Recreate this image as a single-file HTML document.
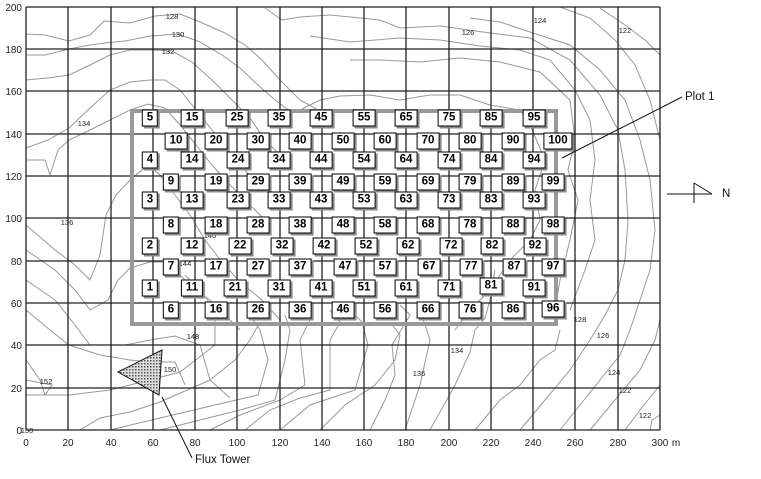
<!DOCTYPE html>
<html><head><meta charset="utf-8"><style>
body{margin:0;background:#fff;}
#w{position:relative;width:761px;height:479px;overflow:hidden;font-family:"Liberation Sans",sans-serif;}
svg{position:absolute;left:0;top:0;}
.b{position:absolute;transform:translate(-50%,-50%);background:#fff;border:1px solid #000;padding:0 4px;height:15px;line-height:15px;font-weight:bold;font-size:11.5px;box-shadow:2px 2px 0 #8a8a8a;white-space:nowrap;}
</style></head><body><div id="w">
<svg width="761" height="479" viewBox="0 0 761 479">
<g fill="none" stroke="#999" stroke-width="1">
<polyline points="26,34 45,35 69,41 90,35 104,21 130,23 155,16 180,14 200,22 225,33 245,45 262,60 280,80 300,100 320,111"/>
<polyline points="26,55 45,55 69,49 90,45 105,43 125,41 150,36 178,34 200,42 222,55 240,68 258,85 275,100 290,111"/>
<polyline points="26,80 48,78 69,75 90,65 110,55 130,50 155,50 172,51 192,62 212,80 232,100 250,118 265,140 285,160"/>
<polyline points="26,148 48,140 69,128 90,108 110,90 130,82 150,80 165,80 180,90 196,110 212,130 228,150 245,170 262,190"/>
<polyline points="26,160 45,160 50,175 58,150 69,140 90,130 110,120 130,110 148,104 165,108 180,125 196,145 212,165 230,185 250,205 270,225"/>
<polyline points="26,225 55,250 75,265 90,280 100,255 106,215 116,195 130,180 148,165 160,175 175,195 190,215 205,240 222,262 240,282 262,300 280,320"/>
<polyline points="26,250 55,270 75,290 90,310 108,300 118,280 130,268 150,262 165,262 180,275 195,290 210,300 225,315 240,330"/>
<polyline points="26,280 55,300 75,325 90,345 108,345 125,345 150,340 175,336 200,345 210,380 230,398"/>
<polyline points="26,310 50,330 69,345 100,355 130,360 150,362 175,362 185,385"/>
<polyline points="26,360 40,380 45,395 69,395 110,390 150,380 180,372 215,345 215,310 200,290 185,275"/>
<polyline points="26,395 45,395 52,385 26,380"/>
<polyline points="80,430 100,418 130,412 160,402 210,380 235,360 250,340 260,322"/>
<polyline points="110,430 160,418 215,405 258,395 268,360 260,330 250,315"/>
<polyline points="160,430 200,420 240,410 275,400 285,360 290,330 285,315"/>
<polyline points="210,430 240,415 280,400 305,385 300,340 310,320"/>
<polyline points="245,430 270,410 300,398 330,390 330,340 340,322 330,310"/>
<polyline points="280,430 310,405 355,390 368,345 362,322 345,305"/>
<polyline points="320,430 345,405 375,385 395,360 400,335 390,322"/>
<polyline points="370,430 385,400 395,375 392,345 410,315 400,305"/>
<polyline points="405,430 420,385 430,340 420,310"/>
<polyline points="430,430 455,385 470,352 475,330 485,318 490,300 495,270"/>
<polyline points="475,430 500,400 520,385 540,360 555,350 560,330"/>
<polyline points="520,430 545,400 570,370 590,340 605,315 618,290 625,260 628,220 625,170 618,130 600,95 570,60 530,38 490,33 440,26 400,28 380,20 360,18 330,15 300,17 282,20 265,8"/>
<polyline points="560,430 580,405 600,380 620,355 630,330 640,300 650,270 655,230 650,180 640,140 625,100 600,70 570,45 530,32 500,22 470,18"/>
<polyline points="590,430 615,400 640,370 655,340 660,320"/>
<polyline points="625,430 640,410 652,395 660,385"/>
<polyline points="650,430 652,420 660,415"/>
<polyline points="600,8 625,25 645,40 660,55"/>
<polyline points="560,7 590,18 615,40 635,65 650,100 660,140"/>
<polyline points="455,330 470,310 490,290 510,260 530,240 540,220 535,190 545,160 530,125 520,110 490,105 460,95 430,95 400,100 370,95 340,96 320,100 300,110"/>
<polyline points="350,60 380,60 420,62 460,58 500,62 540,72 570,100 575,140 568,170 578,200 570,240 560,280 555,310"/>
<polyline points="310,36 350,42 400,38 440,40 480,46 520,50 550,60 575,90 590,120 595,160 590,200 595,240 585,270 570,310"/>
</g>
<g stroke="#222" stroke-width="1.3">
<line x1="26" y1="7" x2="26" y2="430"/><line x1="68" y1="7" x2="68" y2="430"/><line x1="111" y1="7" x2="111" y2="430"/><line x1="153" y1="7" x2="153" y2="430"/><line x1="195" y1="7" x2="195" y2="430"/><line x1="237" y1="7" x2="237" y2="430"/><line x1="280" y1="7" x2="280" y2="430"/><line x1="322" y1="7" x2="322" y2="430"/><line x1="364" y1="7" x2="364" y2="430"/><line x1="406" y1="7" x2="406" y2="430"/><line x1="449" y1="7" x2="449" y2="430"/><line x1="491" y1="7" x2="491" y2="430"/><line x1="533" y1="7" x2="533" y2="430"/><line x1="575" y1="7" x2="575" y2="430"/><line x1="618" y1="7" x2="618" y2="430"/><line x1="660" y1="7" x2="660" y2="430"/>
<line x1="26" y1="7" x2="660" y2="7"/><line x1="26" y1="49" x2="660" y2="49"/><line x1="26" y1="91" x2="660" y2="91"/><line x1="26" y1="134" x2="660" y2="134"/><line x1="26" y1="176" x2="660" y2="176"/><line x1="26" y1="218" x2="660" y2="218"/><line x1="26" y1="261" x2="660" y2="261"/><line x1="26" y1="303" x2="660" y2="303"/><line x1="26" y1="345" x2="660" y2="345"/><line x1="26" y1="388" x2="660" y2="388"/><line x1="26" y1="430" x2="660" y2="430"/>
</g>
<rect x="132" y="111" width="424" height="213" fill="none" stroke="#999" stroke-width="4"/>
<g font-size="7.5" fill="#222" text-anchor="middle">
<text x="172" y="19">128</text><text x="178" y="37">130</text><text x="168" y="54">132</text><text x="84" y="126">134</text><text x="67" y="225">136</text><text x="210" y="238">140</text><text x="185" y="266">144</text><text x="193" y="339">148</text><text x="170" y="372">150</text><text x="46" y="384">152</text><text x="27" y="433">150</text><text x="468" y="35">126</text><text x="540" y="23">124</text><text x="625" y="33">122</text><text x="457" y="353">134</text><text x="419" y="376">136</text><text x="580" y="322">128</text><text x="603" y="338">126</text><text x="614" y="375">124</text><text x="625" y="393">122</text><text x="645" y="418">122</text>
</g>
<g font-size="10" fill="#222" text-anchor="end">
<text x="22" y="11">200</text><text x="22" y="53">180</text><text x="22" y="95">160</text><text x="22" y="138">140</text><text x="22" y="180">120</text><text x="22" y="222">100</text><text x="22" y="265">80</text><text x="22" y="307">60</text><text x="22" y="349">40</text><text x="22" y="392">20</text><text x="22" y="434">0</text>
</g>
<g font-size="10" fill="#222" text-anchor="middle">
<text x="26" y="446">0</text><text x="68" y="446">20</text><text x="111" y="446">40</text><text x="153" y="446">60</text><text x="195" y="446">80</text><text x="237" y="446">100</text><text x="280" y="446">120</text><text x="322" y="446">140</text><text x="364" y="446">160</text><text x="406" y="446">180</text><text x="449" y="446">200</text><text x="491" y="446">220</text><text x="533" y="446">240</text><text x="575" y="446">260</text><text x="618" y="446">280</text><text x="660" y="446">300</text><text x="676" y="446">m</text>
</g>
<defs><pattern id="p" width="3" height="3" patternUnits="userSpaceOnUse"><rect width="3" height="3" fill="#ddd"/><rect width="1.5" height="1.5" fill="#555"/></pattern></defs>
<polygon points="118,372 162,350 159,395" fill="url(#p)" stroke="#111" stroke-width="1"/>
<line x1="162" y1="397" x2="192" y2="458" stroke="#111"/>
<text x="195" y="463" font-size="11.5" fill="#111">Flux Tower</text>
<line x1="562" y1="158" x2="682" y2="97" stroke="#111"/>
<text x="685" y="100" font-size="11.5" fill="#111">Plot 1</text>
<line x1="667" y1="194" x2="712" y2="194" stroke="#111"/>
<line x1="694" y1="183" x2="694" y2="203" stroke="#111"/>
<line x1="694" y1="183" x2="712" y2="194" stroke="#111"/>
<text x="722" y="197" font-size="11.5" fill="#111">N</text>
</svg>
<div class="b" style="left:150px;top:288px">1</div><div class="b" style="left:150px;top:246px">2</div><div class="b" style="left:150px;top:200px">3</div><div class="b" style="left:150px;top:160px">4</div><div class="b" style="left:150px;top:118px">5</div>
<div class="b" style="left:171px;top:310px">6</div><div class="b" style="left:171px;top:267px">7</div><div class="b" style="left:171px;top:225px">8</div><div class="b" style="left:171px;top:182px">9</div><div class="b" style="left:176px;top:141px">10</div>
<div class="b" style="left:192px;top:288px">11</div><div class="b" style="left:192px;top:246px">12</div><div class="b" style="left:192px;top:200px">13</div><div class="b" style="left:192px;top:160px">14</div><div class="b" style="left:192px;top:118px">15</div>
<div class="b" style="left:216px;top:310px">16</div><div class="b" style="left:216px;top:267px">17</div><div class="b" style="left:216px;top:225px">18</div><div class="b" style="left:216px;top:182px">19</div><div class="b" style="left:216px;top:141px">20</div>
<div class="b" style="left:235px;top:288px">21</div><div class="b" style="left:240px;top:246px">22</div><div class="b" style="left:238px;top:200px">23</div><div class="b" style="left:238px;top:160px">24</div><div class="b" style="left:237px;top:118px">25</div>
<div class="b" style="left:258px;top:310px">26</div><div class="b" style="left:258px;top:267px">27</div><div class="b" style="left:258px;top:225px">28</div><div class="b" style="left:258px;top:182px">29</div><div class="b" style="left:258px;top:141px">30</div>
<div class="b" style="left:279px;top:288px">31</div><div class="b" style="left:282px;top:246px">32</div><div class="b" style="left:279px;top:200px">33</div><div class="b" style="left:279px;top:160px">34</div><div class="b" style="left:279px;top:118px">35</div>
<div class="b" style="left:300px;top:310px">36</div><div class="b" style="left:300px;top:267px">37</div><div class="b" style="left:300px;top:225px">38</div><div class="b" style="left:300px;top:182px">39</div><div class="b" style="left:300px;top:141px">40</div>
<div class="b" style="left:321px;top:288px">41</div><div class="b" style="left:324px;top:246px">42</div><div class="b" style="left:321px;top:200px">43</div><div class="b" style="left:321px;top:160px">44</div><div class="b" style="left:321px;top:118px">45</div>
<div class="b" style="left:343px;top:310px">46</div><div class="b" style="left:345px;top:267px">47</div><div class="b" style="left:343px;top:225px">48</div><div class="b" style="left:343px;top:182px">49</div><div class="b" style="left:343px;top:141px">50</div>
<div class="b" style="left:364px;top:288px">51</div><div class="b" style="left:366px;top:246px">52</div><div class="b" style="left:364px;top:200px">53</div><div class="b" style="left:364px;top:160px">54</div><div class="b" style="left:364px;top:118px">55</div>
<div class="b" style="left:385px;top:310px">56</div><div class="b" style="left:385px;top:267px">57</div><div class="b" style="left:385px;top:225px">58</div><div class="b" style="left:385px;top:182px">59</div><div class="b" style="left:385px;top:141px">60</div>
<div class="b" style="left:406px;top:288px">61</div><div class="b" style="left:408px;top:246px">62</div><div class="b" style="left:406px;top:200px">63</div><div class="b" style="left:406px;top:160px">64</div><div class="b" style="left:406px;top:118px">65</div>
<div class="b" style="left:428px;top:310px">66</div><div class="b" style="left:429px;top:267px">67</div><div class="b" style="left:428px;top:225px">68</div><div class="b" style="left:428px;top:182px">69</div><div class="b" style="left:428px;top:141px">70</div>
<div class="b" style="left:449px;top:288px">71</div><div class="b" style="left:451px;top:246px">72</div><div class="b" style="left:449px;top:200px">73</div><div class="b" style="left:449px;top:160px">74</div><div class="b" style="left:449px;top:118px">75</div>
<div class="b" style="left:470px;top:310px">76</div><div class="b" style="left:471px;top:267px">77</div><div class="b" style="left:470px;top:225px">78</div><div class="b" style="left:470px;top:182px">79</div><div class="b" style="left:470px;top:141px">80</div>
<div class="b" style="left:491px;top:286px">81</div><div class="b" style="left:492px;top:246px">82</div><div class="b" style="left:491px;top:200px">83</div><div class="b" style="left:491px;top:160px">84</div><div class="b" style="left:491px;top:118px">85</div>
<div class="b" style="left:513px;top:310px">86</div><div class="b" style="left:514px;top:267px">87</div><div class="b" style="left:513px;top:225px">88</div><div class="b" style="left:513px;top:182px">89</div><div class="b" style="left:513px;top:141px">90</div>
<div class="b" style="left:534px;top:288px">91</div><div class="b" style="left:535px;top:246px">92</div><div class="b" style="left:534px;top:200px">93</div><div class="b" style="left:534px;top:160px">94</div><div class="b" style="left:534px;top:118px">95</div>
<div class="b" style="left:553px;top:309px">96</div><div class="b" style="left:553px;top:267px">97</div><div class="b" style="left:553px;top:225px">98</div><div class="b" style="left:553px;top:182px">99</div><div class="b" style="left:558px;top:141px">100</div>
</div></body></html>
